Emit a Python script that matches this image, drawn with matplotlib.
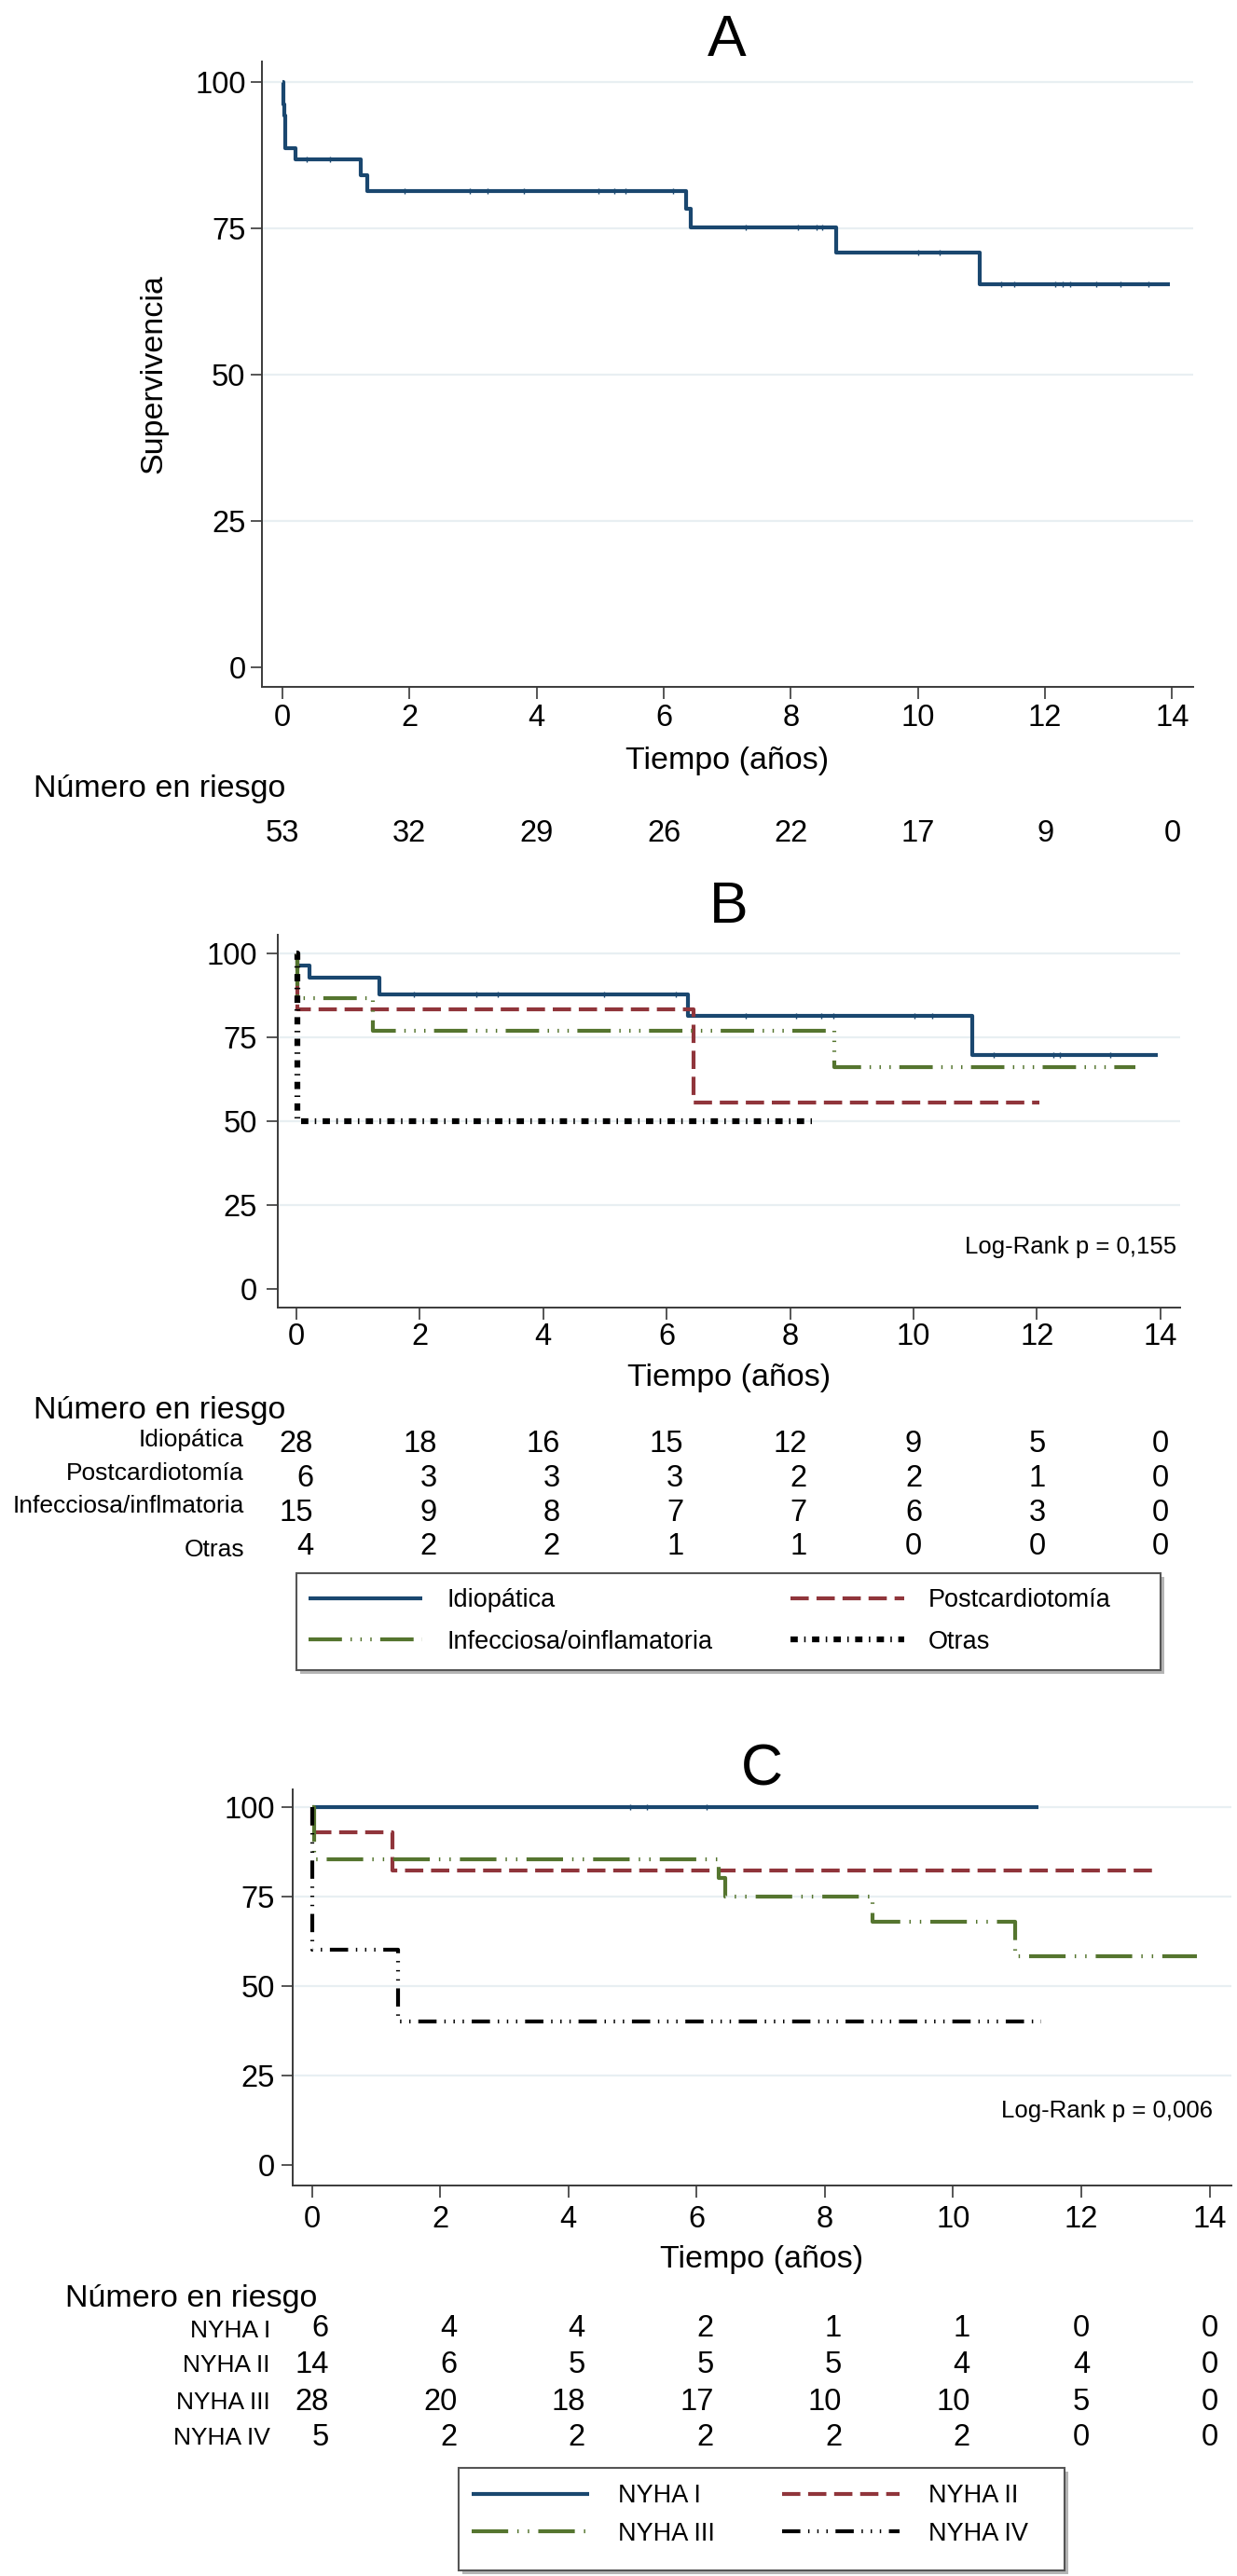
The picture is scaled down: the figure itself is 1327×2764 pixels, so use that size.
import matplotlib
matplotlib.use("Agg")
import matplotlib.pyplot as plt
import numpy as np
from matplotlib.patches import Rectangle
from matplotlib.transforms import blended_transform_factory, offset_copy

plt.rcParams["font.family"] = ["Liberation Sans", "DejaVu Sans"]

W, H = 1327, 2764

# ---------------- datos ----------------
tiempos_ticks = [0, 2, 4, 6, 8, 10, 12, 14]
superv_ticks = [0, 25, 50, 75, 100]

# Panel A: supervivencia global
a_tiempo = [0.01, 0.02, 0.03, 0.04, 0.045, 0.05, 0.21, 1.24, 1.33, 6.35, 6.43, 8.72, 10.97]
a_superv = [98.1, 96.2, 94.3, 92.5, 90.6, 88.7, 86.8, 84.1, 81.4, 78.3, 75.1, 70.8, 65.4]
a_fin = 13.97
a_censura = [0.39, 0.75, 1.92, 2.95, 3.23, 3.80, 4.97, 5.22, 5.40, 6.15, 7.29, 8.11,
             8.40, 8.49, 10.01, 10.34, 11.31, 11.51, 12.16, 12.27, 12.39, 12.80, 13.18, 13.62]
a_riesgo = [53, 32, 29, 26, 22, 17, 9, 0]

# Panel B: por etiologia
b_leyenda = ["Idiopática", "Postcardiotomía", "Infecciosa/oinflamatoria", "Otras"]
b_filas = ["Idiopática", "Postcardiotomía", "Infecciosa/inflmatoria", "Otras"]
b_tiempo = [[0.01, 0.22, 1.34, 6.34, 10.95], [0.02, 6.44], [0.02, 1.24, 8.72], [0.02]]
b_superv = [[96.4, 92.9, 87.8, 81.3, 69.7], [83.3, 55.6], [86.7, 77.0, 66.0], [50.0]]
b_fin = [13.96, 12.04, 13.59, 8.35]
b_censura = [1.90, 2.92, 3.26, 4.98, 6.15, 7.28, 8.09, 8.50, 8.70, 10.01, 10.31,
             11.30, 12.26, 12.37, 13.18]
b_riesgo = [[28, 18, 16, 15, 12, 9, 5, 0],
            [6, 3, 3, 3, 2, 2, 1, 0],
            [15, 9, 8, 7, 7, 6, 3, 0],
            [4, 2, 2, 1, 1, 0, 0, 0]]
b_logrank = "Log-Rank p = 0,155"

# Panel C: por clase NYHA
c_grupos = ["NYHA I", "NYHA II", "NYHA III", "NYHA IV"]
c_tiempo = [[], [0.01, 1.25], [0.04, 6.34, 6.44, 8.74, 10.96], [0.01, 1.34]]
c_superv = [[], [92.9, 82.2], [85.5, 80.2, 75.0, 68.0, 58.3], [60.0, 40.0]]
c_fin = [11.33, 13.22, 13.80, 11.38]
c_censura = [4.96, 5.22, 6.15]
c_riesgo = [[6, 4, 4, 2, 1, 1, 0, 0],
            [14, 6, 5, 5, 5, 4, 4, 0],
            [28, 20, 18, 17, 10, 10, 5, 0],
            [5, 2, 2, 2, 2, 2, 0, 0]]
c_logrank = "Log-Rank p = 0,006"

# ---------------- estilos ----------------
AZUL = "#1a476f"
GRANATE = "#90353b"
VERDE = "#55752f"
NEGRO = "#000000"
LW = 3.0

estilos_b = [dict(color=AZUL, ls="-"),
             dict(color=GRANATE, ls=(0, (4.7, 2.0))),
             dict(color=VERDE, ls=(0, (8.6, 2.2, 0.35, 2.2, 0.35, 2.2, 0.35, 2.2))),
             dict(color=NEGRO, ls=(0, (1.25, 1.1, 0.25, 1.1)), lw=4.5)]
estilos_c = [dict(color=AZUL, ls="-"),
             dict(color=GRANATE, ls=(0, (4.7, 2.0))),
             dict(color=VERDE, ls=(0, (9.4, 2.35, 0.35, 2.35, 0.35, 2.35))),
             dict(color=NEGRO, ls=(0, (4.7, 2.0, 0.35, 2.0, 0.35, 2.0, 0.35, 2.0)))]

fig = plt.figure(figsize=(W / 100, H / 100), dpi=100)


def texto(x_px, y_px, s, **kw):
    fig.text(x_px / W, 1 - y_px / H, s, **kw)


def nuevo_eje(caja, xlim, ylim, pad_x, pad_y):
    l, t, r, b = caja
    ax = fig.add_axes([l / W, 1 - b / H, (r - l) / W, (b - t) / H])
    ax.set_xlim(*xlim)
    ax.set_ylim(*ylim)
    for s in ("top", "right"):
        ax.spines[s].set_visible(False)
    for s in ("left", "bottom"):
        ax.spines[s].set_color("#3a3a3a")
        ax.spines[s].set_linewidth(1.4)
    ax.set_xticks(tiempos_ticks)
    ax.set_yticks(superv_ticks)
    ax.tick_params(axis="both", length=9, width=1.4, color="#555555", labelsize=23.5)
    ax.tick_params(axis="x", pad=pad_x)
    ax.tick_params(axis="y", pad=pad_y)
    for v in superv_ticks[1:]:
        ax.axhline(v, color="#e8eff2", lw=1.6, zorder=0)
    return ax


def curva(ax, tiempos, superv, fin, **kw):
    x = [0] + list(tiempos) + [fin]
    y = [100] + list(superv) + [superv[-1] if superv else 100]
    lw = kw.pop("lw", LW)
    linea, = ax.step(x, y, where="post", lw=lw, solid_capstyle="butt",
                     dash_capstyle="butt", **kw)
    return linea, np.array(x), np.array(y)


def censuras(ax, x, y, tiempos, color):
    idx = np.searchsorted(x, tiempos, side="right") - 1
    ax.plot(tiempos, y[idx], ls="none", marker="|", ms=5, mew=1.0, color=color)


def tabla_riesgo(ax, tabla, bases_px, size):
    trans = blended_transform_factory(ax.transData, fig.transFigure)
    derecha = offset_copy(trans, fig=fig, x=0.556 * size, y=0, units="points")
    for j, t in enumerate(tiempos_ticks):
        dos_cifras = max(fila[j] for fila in tabla) >= 10
        for fila, base in zip(tabla, bases_px):
            if dos_cifras:
                ax.text(t, 1 - base / H, str(fila[j]), transform=derecha,
                        ha="right", va="baseline", fontsize=size)
            else:
                ax.text(t, 1 - base / H, str(fila[j]), transform=trans,
                        ha="center", va="baseline", fontsize=size)


def marco(l, t, r, b):
    fig.add_artist(Rectangle(((l + 4) / W, 1 - (b + 4) / H), (r - l) / W, (b - t) / H,
                             transform=fig.transFigure, facecolor="#b5b5b5",
                             edgecolor="none", zorder=1))
    fig.add_artist(Rectangle((l / W, 1 - b / H), (r - l) / W, (b - t) / H,
                             transform=fig.transFigure, facecolor="white",
                             edgecolor="#555555", lw=1.5, zorder=1.5))


def leyenda(handles, labels, x_px, top_px, size, hl, htp, ls):
    fig.legend(handles, labels, loc="upper left",
               bbox_to_anchor=(x_px / W, 1 - top_px / H), bbox_transform=fig.transFigure,
               frameon=False, borderpad=0, borderaxespad=0, fontsize=size,
               handlelength=hl, handletextpad=htp, labelspacing=ls)


# ---------------- Panel A ----------------
axA = nuevo_eje((281, 66, 1280, 737), (-0.32, 14.33), (-3.34, 103.5), 4, 3.6)
linA, xA, yA = curva(axA, a_tiempo, a_superv, a_fin, color=AZUL)
censuras(axA, xA, yA, a_censura, AZUL)
texto(780, 60, "A", fontsize=45, ha="center", va="baseline")
texto(165, 401, "Supervivencia", fontsize=24.5, rotation=90, ha="center", va="center")
texto(780, 825, "Tiempo (años)", fontsize=24.5, ha="center", va="baseline")
texto(36, 855, "Número en riesgo", fontsize=24.5, ha="left", va="baseline")
tabla_riesgo(axA, [a_riesgo], [903], 23.5)

# ---------------- Panel B ----------------
axB = nuevo_eje((298, 1003, 1266, 1403), (-0.30, 14.32), (-5.7, 105.6), 2.7, 7)
lineas_b = []
for tt, ss, fin, est in zip(b_tiempo, b_superv, b_fin, estilos_b):
    linea, xb, yb = curva(axB, tt, ss, fin, **dict(est))
    lineas_b.append((linea, xb, yb))
censuras(axB, lineas_b[0][1], lineas_b[0][2], b_censura, AZUL)
texto(782, 990, "B", fontsize=45, ha="center", va="baseline")
texto(1262, 1345, b_logrank, fontsize=18.5, ha="right", va="baseline")
texto(782, 1487, "Tiempo (años)", fontsize=24.5, ha="center", va="baseline")
texto(36, 1522, "Número en riesgo", fontsize=24.5, ha="left", va="baseline")
for nombre, base in zip(b_filas, [1552, 1588, 1623, 1670]):
    texto(262, base, nombre, fontsize=19, ha="right", va="baseline")
tabla_riesgo(axB, b_riesgo, [1558, 1595, 1632, 1668], 23.5)

marco(318, 1688, 1245, 1792)
hb = [l[0] for l in lineas_b]
leyenda([hb[0], hb[2]], [b_leyenda[0], b_leyenda[2]], 331, 1704, 19.5, 4.5, 0.97, 0.69)
leyenda([hb[1], hb[3]], [b_leyenda[1], b_leyenda[3]], 848, 1704, 19.5, 4.5, 0.97, 0.69)

# ---------------- Panel C ----------------
axC = nuevo_eje((314, 1920, 1321, 2345), (-0.30, 14.34), (-5.84, 104.95), 6.3, 4.8)
lineas_c = []
for tt, ss, fin, est in zip(c_tiempo, c_superv, c_fin, estilos_c):
    linea, xc, yc = curva(axC, tt, ss, fin, **dict(est))
    lineas_c.append((linea, xc, yc))
censuras(axC, lineas_c[0][1], lineas_c[0][2], c_censura, AZUL)
texto(817, 1916, "C", fontsize=45, ha="center", va="baseline")
texto(1301, 2272, c_logrank, fontsize=18.5, ha="right", va="baseline")
texto(817, 2433, "Tiempo (años)", fontsize=24.5, ha="center", va="baseline")
texto(70, 2475, "Número en riesgo", fontsize=24.5, ha="left", va="baseline")
for nombre, base in zip(c_grupos, [2508, 2545, 2585, 2623]):
    texto(290, base, nombre, fontsize=19, ha="right", va="baseline")
tabla_riesgo(axC, c_riesgo, [2507, 2546, 2586, 2624], 23.5)

marco(492, 2648, 1142, 2758)
hc = [l[0] for l in lineas_c]
leyenda([hc[0], hc[2]], [c_grupos[0], c_grupos[2]], 506, 2665, 19.5, 4.65, 1.16, 0.55)
leyenda([hc[1], hc[3]], [c_grupos[1], c_grupos[3]], 839, 2665, 19.5, 4.65, 1.16, 0.55)

fig.savefig("out.png", dpi=100)
